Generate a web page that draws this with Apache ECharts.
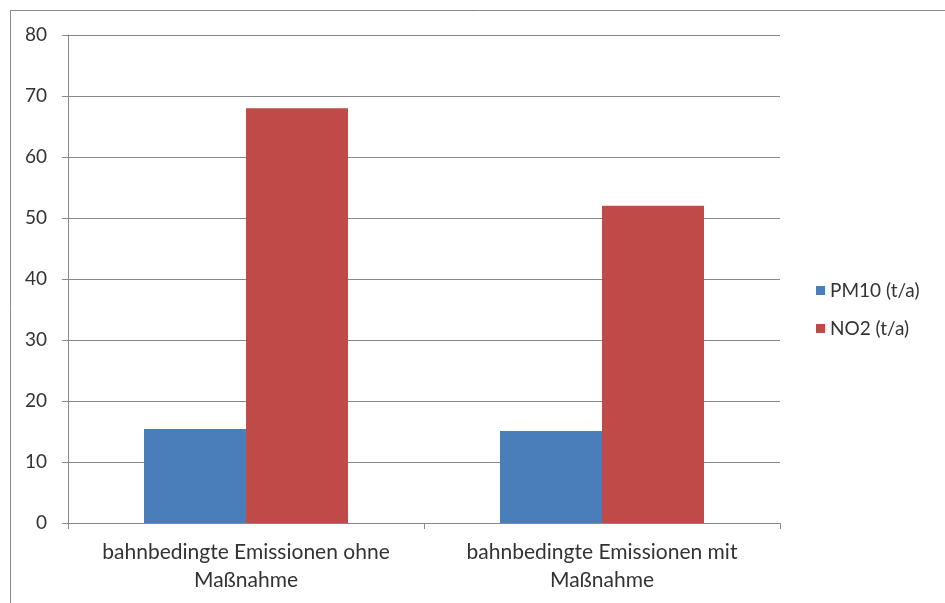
<!DOCTYPE html>
<html>
<head>
<meta charset="utf-8">
<script src="https://cdn.jsdelivr.net/npm/echarts@6/dist/echarts.min.js"></script>
<style>
  html, body { margin: 0; padding: 0; background: #fff; }
  #chart { width: 945px; height: 603px; }
</style>
</head>
<body>
<div id="chart"></div>
<script>
var categories = ['bahnbedingte Emissionen ohne\nMaßnahme', 'bahnbedingte Emissionen mit\nMaßnahme'];
var seriesNames = ['PM10 (t/a)', 'NO2 (t/a)'];
var pm10Values = [15.4, 15.1];
var no2Values = [68, 52];
var yTicks = [0, 80, 10]; // min, max, interval

var chart = echarts.init(document.getElementById('chart'));
var font = 'Lato, "Open Sans", sans-serif';
var option = {
    animation: false,
    color: ['#4a7ebb', '#be4b48'],
    graphic: [{
        type: 'rect',
        shape: { x: 10.5, y: 10.5, width: 1000, height: 1000 },
        style: { fill: 'none', stroke: '#8a8a8a', lineWidth: 1 },
        silent: true
    }],
    legend: {
        orient: 'vertical',
        left: 811,
        top: 276,
        itemWidth: 9,
        itemHeight: 9,
        itemGap: 19,
        icon: 'rect',
        textStyle: { fontFamily: font, fontSize: 19, color: '#333' },
        data: seriesNames
    },
    grid: { left: 68, top: 35, width: 712, height: 488 },
    xAxis: {
        type: 'category',
        data: categories,
        axisLine: { lineStyle: { color: '#888' } },
        axisTick: { show: true, length: 6, lineStyle: { color: '#888' } },
        axisLabel: { fontFamily: font, fontSize: 21, color: '#333', margin: 15, lineHeight: 28, interval: 0 }
    },
    yAxis: {
        type: 'value',
        min: yTicks[0],
        max: yTicks[1],
        interval: yTicks[2],
        axisLine: { show: true, lineStyle: { color: '#888' } },
        axisTick: { show: true, length: 6, lineStyle: { color: '#888' } },
        splitLine: { lineStyle: { color: '#888' } },
        axisLabel: { fontFamily: font, fontSize: 19, color: '#333', margin: 21 }
    },
    series: [
        { name: seriesNames[0], type: 'bar', data: pm10Values, barWidth: 102, barGap: '0%' },
        { name: seriesNames[1], type: 'bar', data: no2Values, barWidth: 102, barGap: '0%' }
    ]
};
chart.setOption(option);
window.onresize = chart.resize;
</script>
</body>
</html>
